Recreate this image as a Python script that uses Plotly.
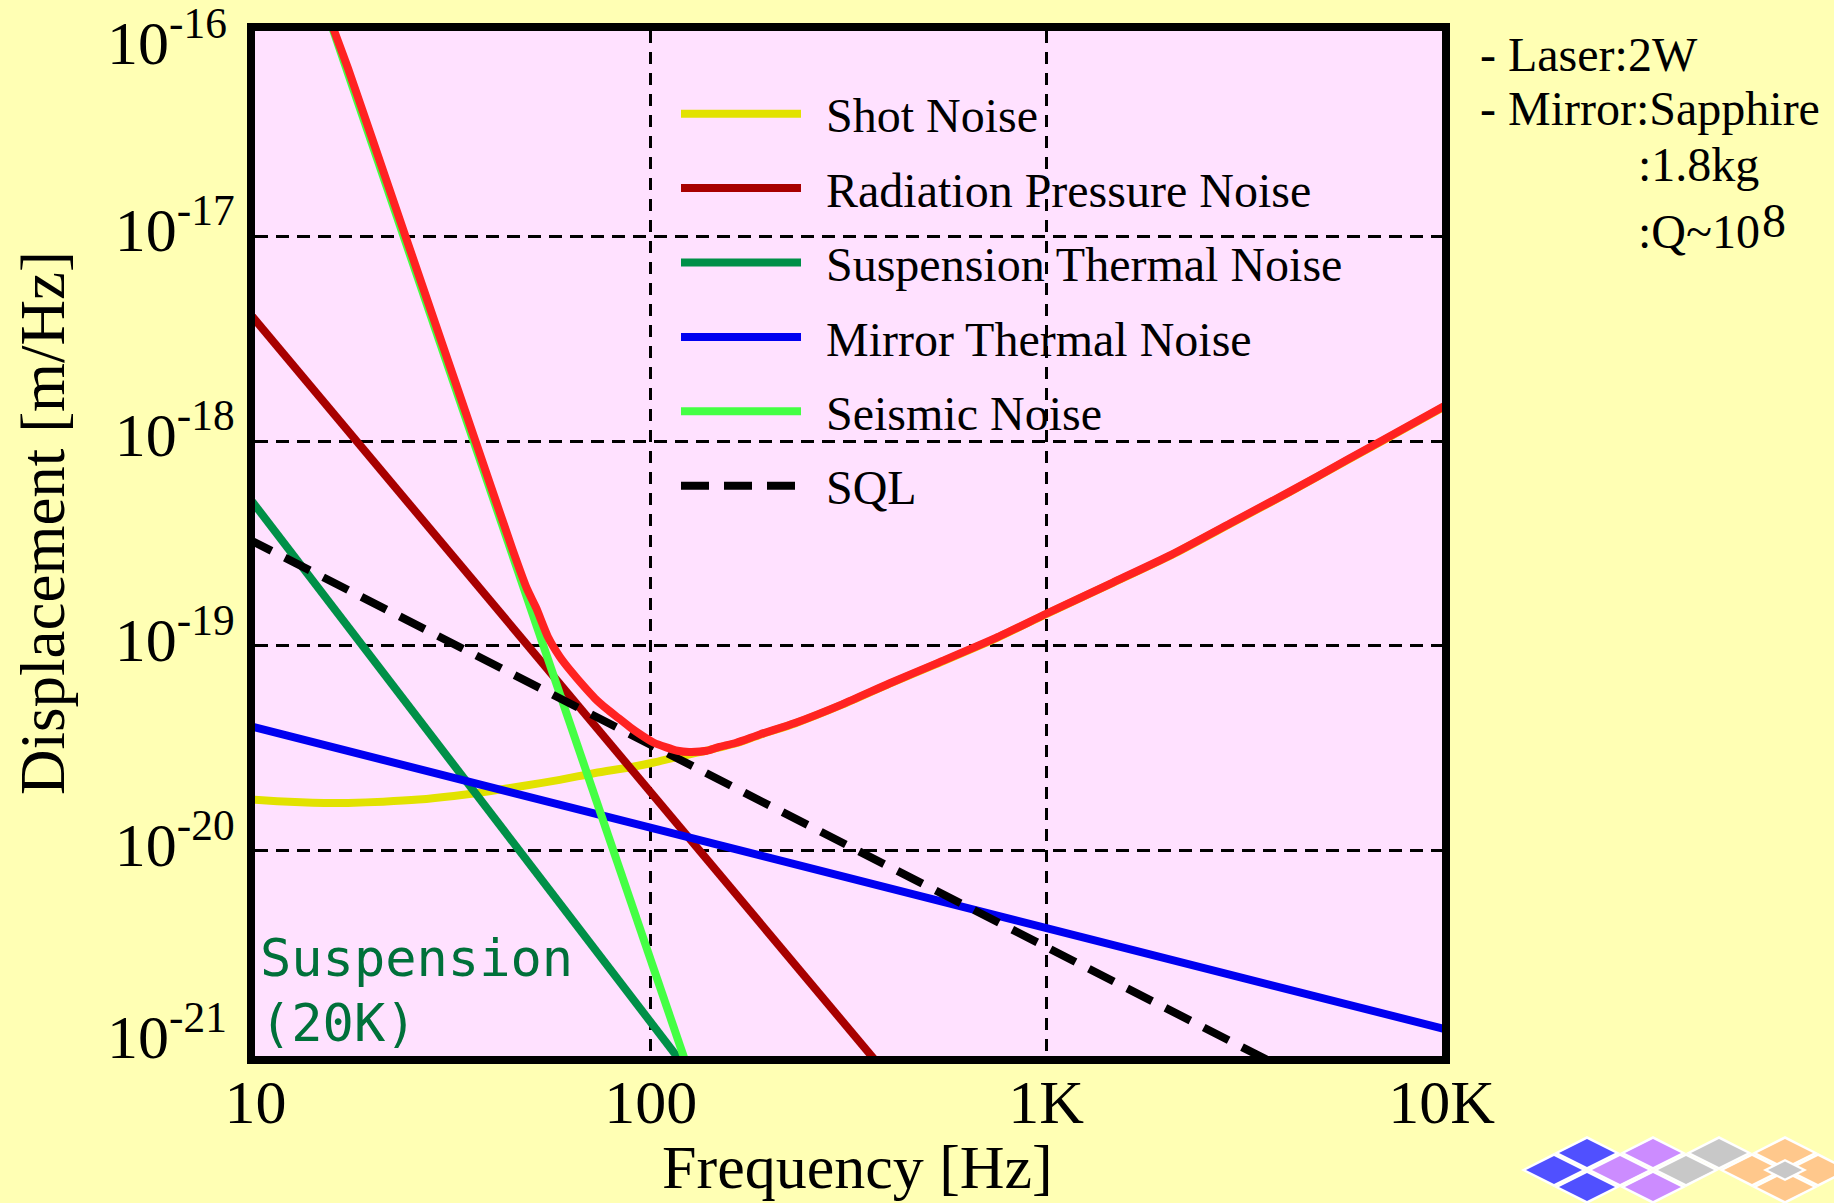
import plotly.graph_objects as go

# ---------------- data ----------------
freq_shot = [9.77, 11.36, 13.03, 14.94, 17.14, 21.05, 25.85, 31.76, 39.0, 47.88, 58.85, 72.3,
             88.8, 101.8, 116.8, 133.9, 148.4, 164.5, 188.7, 231.7, 304.8, 400.9, 527.2, 746.4,
             1000, 1474, 2077, 2924, 4120, 5802, 8176, 10535]
shot_noise = [1.78e-20, 1.746e-20, 1.725e-20, 1.714e-20, 1.714e-20, 1.738e-20, 1.78e-20, 1.854e-20,
              1.954e-20, 2.08e-20, 2.22e-20, 2.40e-20, 2.56e-20, 2.70e-20, 2.88e-20, 3.04e-20,
              3.19e-20, 3.35e-20, 3.68e-20, 4.19e-20, 5.17e-20, 6.53e-20, 8.16e-20, 1.09e-19,
              1.43e-19, 2.03e-19, 2.78e-19, 3.95e-19, 5.62e-19, 8.10e-19, 1.168e-18, 1.53e-18]

freq_rad = [9.5, 380]
rad_noise = [4.37e-18, 8.9e-22]

freq_susp = [9.5, 120]
susp_noise = [5.5e-19, 9.2e-22]

freq_mirror = [9.5, 10500]
mirror_noise = [4.1e-20, 1.33e-21]

freq_seis = [15.5, 125]
seis_noise = [1.1e-16, 8.3e-22]

freq_sql = [9.5, 3600]
sql_noise = [3.36e-19, 9.6e-22]

freq_total = [15.6, 17.14, 19.66, 24.14, 29.65, 36.41, 44.74, 48.57, 51.3, 54.95, 58.85, 63.0,
              67.5, 72.3, 77.4, 82.9, 88.8, 95.1, 101.8, 109.0, 116.8, 125.0, 138.6, 148.4,
              164.5, 188.7, 231.7, 304.8, 400.9, 527.2, 746.4, 1000, 1474, 2077, 2924, 4120,
              5802, 8176, 10535]
total_noise = [1.08e-16, 6.6e-17, 3.06e-17, 9.58e-18, 3.0e-18, 9.4e-19, 2.94e-19, 1.91e-19,
               1.533e-19, 1.106e-19, 8.87e-20, 7.48e-20, 6.40e-20, 5.54e-20, 4.93e-20, 4.44e-20,
               4.00e-20, 3.65e-20, 3.37e-20, 3.21e-20, 3.08e-20, 3.04e-20, 3.08e-20, 3.21e-20,
               3.37e-20, 3.70e-20, 4.21e-20, 5.19e-20, 6.56e-20, 8.20e-20, 1.094e-19, 1.436e-19,
               2.04e-19, 2.79e-19, 3.97e-19, 5.65e-19, 8.14e-19, 1.173e-18, 1.54e-18]

x_tickvals = [10, 100, 1000, 10000]
x_ticktext = ["10", "100", "1K", "10K"]
y_tickvals = [1e-16, 1e-17, 1e-18, 1e-19, 1e-20, 1e-21]
y_ticktext = ["10<sup>-16</sup>", "10<sup>-17</sup>", "10<sup>-18</sup>",
              "10<sup>-19</sup>", "10<sup>-20</sup>", "10<sup>-21</sup>"]

series_names = ["Shot Noise", "Radiation Pressure Noise", "Suspension Thermal Noise",
                "Mirror Thermal Noise", "Seismic Noise", "SQL"]

# ---------------- styling ----------------
W, H = 1834, 1203
ML, MR, MT, MB = 255, 392, 31, 147
PW, PH = W - ML - MR, H - MT - MB
SERIF = "Liberation Serif"
LW = 8
TICK_SIZE = 62

def px2paper(px, py):
    return (px - ML) / PW, (H - MB - py) / PH

fig = go.Figure()

def add(x, y, name, color, dash="solid", show=True, width=LW):
    fig.add_trace(go.Scatter(
        x=x, y=y, mode="lines", name="\u00a0\u2006" + name if show else name,
        line=dict(color=color, width=width, dash=dash, shape="spline", smoothing=0.6),
        showlegend=show, legendgroup=name, hoverinfo="skip"))

add(freq_shot, shot_noise, series_names[0], "#E2E200")
add(freq_rad, rad_noise, series_names[1], "#A80000")
add(freq_susp, susp_noise, series_names[2], "#009048")
add(freq_mirror, mirror_noise, series_names[3], "#0000F0")
add(freq_seis, seis_noise, series_names[4], "#44FF44")
add(freq_sql, sql_noise, series_names[5], "#000000", dash="28px,15px")
add(freq_total, total_noise, "Total", "#FF2222", show=False, width=8)

axis_common = dict(
    showline=True, linewidth=8, linecolor="black", mirror=True,
    showgrid=False, zeroline=False, ticks="", ticklabeloverflow="allow",
    tickfont=dict(family=SERIF, size=TICK_SIZE, color="black"),
)

fig.update_xaxes(
    type="log", range=[0.999, 4.001], tickmode="array", tickvals=x_tickvals, ticktext=x_ticktext,
    ticklabelstandoff=-15,
    minor=dict(tickmode="array", tickvals=[100, 1000], showgrid=True,
               gridcolor="black", gridwidth=3, griddash="12px,9px", ticks=""),
    **axis_common)

# the two end labels of the y axis sit nudged inwards in the reference,
# so they are written as annotations; the inner ones stay as tick labels
y_ticktext_axis = [""] + y_ticktext[1:-1] + [""]
fig.update_yaxes(
    type="log", range=[-21.001, -15.999], tickmode="array", tickvals=y_tickvals,
    ticktext=y_ticktext_axis,
    ticklabelstandoff=0, ticklabelshift=-7,
    minor=dict(tickmode="array", tickvals=[1e-17, 1e-18, 1e-19, 1e-20], showgrid=True,
               gridcolor="black", gridwidth=3, griddash="13px,8px", ticks=""),
    **axis_common)

# ---------------- annotations ----------------
annotations = []
def note(text, px, py, size, color="black", family=SERIF, xanchor="left", angle=0):
    x, y = px2paper(px, py)
    annotations.append(dict(text=text, x=x, y=y, xref="paper", yref="paper",
                            xanchor=xanchor, yanchor="middle", showarrow=False, textangle=angle,
                            font=dict(family=family, size=size, color=color)))

note(y_ticktext[0], 229, 38, TICK_SIZE, xanchor="right")
note(y_ticktext[-1], 229, 1032, TICK_SIZE, xanchor="right")
note("Frequency [Hz]", 858, 1167, 62, xanchor="center")
note("Displacement [m/Hz]", 43, 523, 63, xanchor="center", angle=-90)
note("- Laser:2W", 1478, 54, 48)
note("- Mirror:Sapphire", 1478, 109, 48)
note(":1.8kg", 1636, 164, 48)
note(":Q~10", 1636, 232, 48)
note("8", 1760, 220, 48)
note("Suspension", 258, 958, 52, color="#00703A", family="DejaVu Sans Mono")
note("(20K)", 258, 1023, 52, color="#00703A", family="DejaVu Sans Mono")

# ---------------- decorative logo ----------------
logo_cells = [(1, 0, "#5050FF"), (0, 1, "#5050FF"), (1, 2, "#5050FF"),
              (3, 0, "#CC8CFF"), (2, 1, "#CC8CFF"), (3, 2, "#CC8CFF"),
              (5, 0, "#C8C8C8"), (4, 1, "#C8C8C8"),
              (7, 0, "#FFC88C"), (6, 1, "#FFC88C"), (8, 1, "#FFC88C"), (7, 2, "#FFC88C")]
shapes = []
def diamond(cx, cy, hw, hh, color):
    pts = [px2paper(cx, cy - hh), px2paper(cx + hw, cy), px2paper(cx, cy + hh), px2paper(cx - hw, cy)]
    path = "M" + " L".join(f"{a:.5f},{b:.5f}" for a, b in pts) + " Z"
    shapes.append(dict(type="path", path=path, xref="paper", yref="paper",
                       fillcolor=color, line=dict(width=0), layer="above"))
for i, j, c in logo_cells:
    diamond(1554 + 33 * i, 1153 + 17 * j, 33, 17, "white")
for i, j, c in logo_cells:
    diamond(1554 + 33 * i, 1153 + 17 * j, 28, 14, c)
diamond(1785, 1170, 22, 11, "white")
diamond(1785, 1170, 17, 8.5, "#C8C8C8")

lx, ly = px2paper(676, 76)
fig.update_layout(
    width=W, height=H,
    margin=dict(l=ML, r=MR, t=MT, b=MB, autoexpand=False),
    paper_bgcolor="#FFFFB4", plot_bgcolor="#FFE1FF",
    showlegend=True,
    legend=dict(x=lx, y=ly, xanchor="left", yanchor="top", bgcolor="rgba(0,0,0,0)",
                font=dict(family=SERIF, size=48, color="black"),
                itemwidth=120, tracegroupgap=9, borderwidth=0),
    annotations=annotations, shapes=shapes,
)

fig.write_html("out.html")
